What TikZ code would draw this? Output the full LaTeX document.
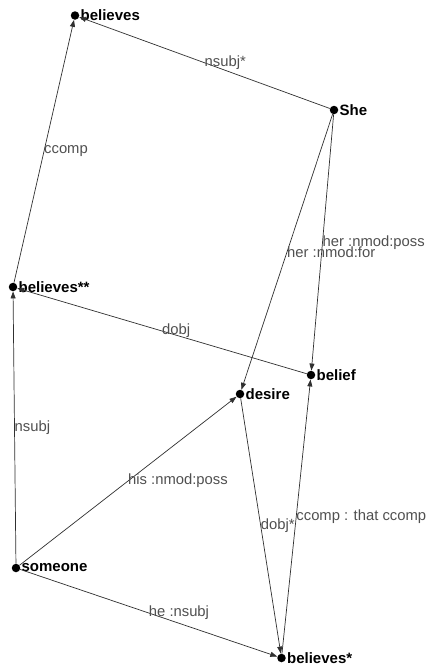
\documentclass[tikz,border=0pt]{standalone}
\usepackage{fontspec}
\setmainfont{Liberation Sans}
\usetikzlibrary{arrows.meta}
\definecolor{edgecol}{HTML}{303030}
\definecolor{labcol}{HTML}{505050}
\tikzset{
  dot/.style={circle,fill=black,inner sep=0pt,minimum size=8.5pt},
  word/.style={anchor=west,inner sep=0pt,font=\fontsize{15}{15}\selectfont\bfseries,text=black},
  dep/.style={draw=edgecol,line width=0.7pt,-{Triangle[length=7pt,width=5pt]}},
  lab/.style={anchor=west,inner sep=0pt,font=\fontsize{14.8}{14.8}\selectfont,text=labcol}
}
\begin{document}
\begin{tikzpicture}[x=1pt,y=-1pt]
\useasboundingbox[fill=white] (0,0) rectangle (429,664);
% nodes
\node[dot] (b1) at (75,15.5) {};
\node[dot] (she) at (334,110) {};
\node[dot] (b2) at (13,287) {};
\node[dot] (belief) at (311,375) {};
\node[dot] (desire) at (240,394) {};
\node[dot] (someone) at (16,568) {};
\node[dot] (b3) at (281.5,658) {};
\node[word] (t1) at ([xshift=1pt]b1.east) {believes};
\node[word] (t2) at ([xshift=1pt]she.east) {She};
\node[word] (t3) at ([xshift=1pt]b2.east) {believes**};
\node[word] (t4) at ([xshift=1pt]belief.east) {belief};
\node[word] (t5) at ([xshift=1pt]desire.east) {desire};
\node[word] (t6) at ([xshift=1pt]someone.east) {someone};
\node[word] (t7) at ([xshift=1pt]b3.east) {believes*};
% edges
\draw[dep] (b2) -- (b1) coordinate[pos=0.5] (m1);
\draw[dep] (she) -- (b1) coordinate[pos=0.5] (m2);
\draw[dep] (she) -- (desire) coordinate[pos=0.5] (m3);
\draw[dep] (she) -- (belief) coordinate[pos=0.5] (m4);
\draw[dep] (belief) -- (b2) coordinate[pos=0.5] (m5);
\draw[dep] (someone) -- (b2) coordinate[pos=0.5] (m6);
\draw[dep] (someone) -- (desire) coordinate[pos=0.5] (m7);
\draw[dep] (someone) -- (b3) coordinate[pos=0.5] (m8);
\draw[dep] (desire) -- (b3) coordinate[pos=0.5] (m9);
\draw[dep] (b3) -- (belief) coordinate[pos=0.5] (m10);
% labels
\node[lab] (l1) at (m1) {ccomp};
\node[lab] (l2) at (m2) {nsubj*};
\node[lab] (l3) at (m3) {her :nmod:for};
\node[lab] (l4) at (m4) {her :nmod:poss};
\node[lab] (l5) at (m5) {dobj};
\node[lab] (l6) at (m6) {nsubj};
\node[lab] (l7) at (m7) {his :nmod:poss};
\node[lab] (l8) at (m8) {he :nsubj};
\node[lab] (l9) at (m9) {dobj*};
\node[lab] (l10) at (m10) {ccomp : that ccomp};
\end{tikzpicture}
\end{document}
